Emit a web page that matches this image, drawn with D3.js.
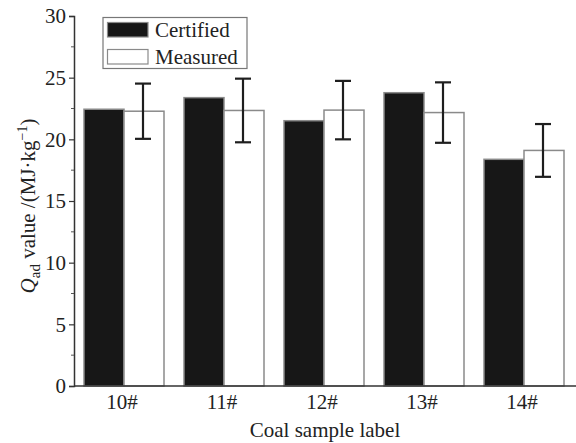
<!DOCTYPE html>
<html>
<head>
<meta charset="utf-8">
<script src="https://cdn.jsdelivr.net/npm/d3@7"></script>
<style>
  html, body { margin: 0; padding: 0; background: #fff; }
  svg text { font-family: "Liberation Serif", "Times New Roman", serif; fill: #222; }
</style>
</head>
<body>
<svg id="chart" width="576" height="443"></svg>
<script>
// Coal samples and their heating values (MJ/kg)
const samples = ["10#", "11#", "12#", "13#", "14#"];
const certified = [22.44, 23.38, 21.51, 23.78, 18.38];
const measured = [22.28, 22.34, 22.37, 22.17, 19.10];
const measuredErr = [2.24, 2.58, 2.37, 2.45, 2.14];
const seriesNames = ["Certified", "Measured"];
const yTicks = [0, 5, 10, 15, 20, 25, 30];
const yMinorTicks = [2.5, 7.5, 12.5, 17.5, 22.5, 27.5];

const FONT = "'Liberation Serif', 'Times New Roman', serif";
const svg = d3.select("#chart");
const margin = { left: 74, right: 2, top: 16, bottom: 57 };
const W = 576, H = 443;

const x = d3.scaleBand()
  .domain(samples)
  .range([margin.left, margin.left + 500])
  .paddingInner(0.2)
  .paddingOuter(0.1);

const xSub = d3.scaleBand()
  .domain(seriesNames)
  .range([0, x.bandwidth()]);

const y = d3.scaleLinear()
  .domain([0, 30])
  .range([H - margin.bottom, margin.top]);

const rows = samples.map((s, i) => ({
  sample: s, Certified: certified[i], Measured: measured[i], err: measuredErr[i]
}));

const fills = { Certified: "#171717", Measured: "#ffffff" };

// Bars
const groups = svg.append("g").selectAll("g")
  .data(rows)
  .join("g")
  .attr("transform", d => `translate(${x(d.sample)},0)`);

groups.selectAll("rect")
  .data(d => seriesNames.map(k => ({ key: k, value: d[k] })))
  .join("rect")
  .attr("x", d => xSub(d.key))
  .attr("y", d => y(d.value))
  .attr("width", xSub.bandwidth())
  .attr("height", d => y(0) - y(d.value))
  .attr("fill", d => fills[d.key])
  .attr("stroke", "#8a8a8a")
  .attr("stroke-width", 1.5);

// Error bars on measured values
const capHalf = 8;
const eb = groups.append("g")
  .attr("stroke", "#1e1e1e")
  .attr("stroke-width", 2.2);
const cx = xSub("Measured") + xSub.bandwidth() / 2 - 1;
eb.append("line")
  .attr("x1", cx).attr("x2", cx)
  .attr("y1", d => y(d.Measured + d.err))
  .attr("y2", d => y(d.Measured - d.err));
eb.append("line")
  .attr("x1", cx - capHalf).attr("x2", cx + capHalf)
  .attr("y1", d => y(d.Measured + d.err))
  .attr("y2", d => y(d.Measured + d.err));
eb.append("line")
  .attr("x1", cx - capHalf).attr("x2", cx + capHalf)
  .attr("y1", d => y(d.Measured - d.err))
  .attr("y2", d => y(d.Measured - d.err));

// Y axis with major and minor ticks
const yAxisG = svg.append("g")
  .attr("transform", `translate(${margin.left},0)`)
  .call(d3.axisLeft(y).tickValues(yTicks).tickSize(5).tickPadding(3).tickFormat(d3.format("d")));
yAxisG.attr("font-family", null).attr("font-size", null);
yAxisG.select(".domain").attr("stroke", "#333").attr("stroke-width", 1.5);
yAxisG.selectAll(".tick line").attr("stroke", "#333").attr("stroke-width", 1.2);
yAxisG.selectAll(".tick text")
  .style("font-size", "21px")
  .style("font-family", FONT)
  .attr("fill", "#222");

svg.append("g")
  .selectAll("line")
  .data(yMinorTicks)
  .join("line")
  .attr("x1", margin.left - 3).attr("x2", margin.left)
  .attr("y1", d => y(d)).attr("y2", d => y(d))
  .attr("stroke", "#555").attr("stroke-width", 1);

// X axis: baseline and category labels
const xAxisG = svg.append("g")
  .attr("transform", `translate(0,${y(0)})`)
  .call(d3.axisBottom(x).tickSize(0).tickPadding(8));
xAxisG.attr("font-family", null).attr("font-size", null);
xAxisG.select(".domain").attr("d", `M${margin.left},0H${W}`).attr("stroke", "#333").attr("stroke-width", 1.5);
xAxisG.selectAll(".tick text")
  .style("font-size", "21px")
  .style("font-family", FONT)
  .attr("fill", "#222")
  .attr("dx", -2);

// Axis titles
svg.append("text")
  .attr("x", (margin.left + margin.left + 500) / 2 + 1)
  .attr("y", 437)
  .attr("text-anchor", "middle")
  .style("font-size", "21px")
  .style("font-family", FONT)
  .text("Coal sample label");

const yTitle = svg.append("text")
  .attr("transform", "translate(35,206) rotate(-90)")
  .attr("text-anchor", "middle")
  .style("font-size", "21px")
  .style("font-family", FONT);
yTitle.append("tspan").style("font-style", "italic").text("Q");
yTitle.append("tspan").attr("dy", 5).style("font-size", "15px").text("ad");
yTitle.append("tspan").attr("dy", -5).text(" value /(MJ·kg");
yTitle.append("tspan").attr("dy", -8).style("font-size", "14px").text("−1");
yTitle.append("tspan").attr("dy", 8).text(")");

// Legend
const legend = svg.append("g");
legend.append("rect")
  .attr("x", 103).attr("y", 17.5)
  .attr("width", 144).attr("height", 51)
  .attr("fill", "#fff").attr("stroke", "#777").attr("stroke-width", 1.2);
seriesNames.forEach((name, i) => {
  const yy = 22.5 + i * 27;
  legend.append("rect")
    .attr("x", 107.5).attr("y", yy)
    .attr("width", 40.5).attr("height", 14.5)
    .attr("fill", fills[name])
    .attr("stroke", "#8a8a8a").attr("stroke-width", 1.2);
  legend.append("text")
    .attr("x", 155).attr("y", yy + 14)
    .style("font-size", "21px")
    .style("font-family", FONT)
    .text(name);
});
</script>
</body>
</html>
